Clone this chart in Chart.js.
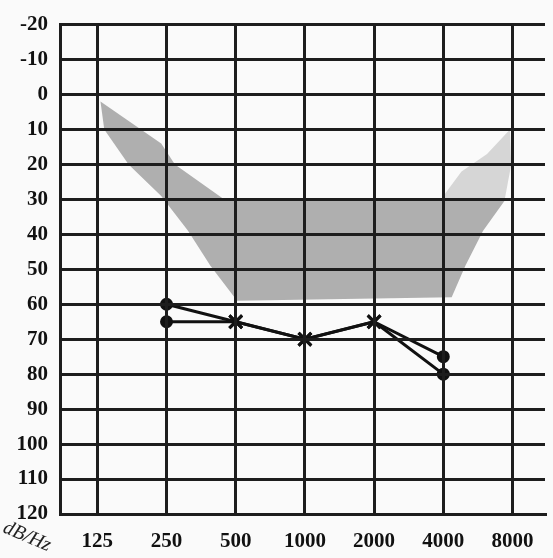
<!DOCTYPE html>
<html>
<head>
<meta charset="utf-8">
<script src="https://cdn.jsdelivr.net/npm/chart.js@4.4.1/dist/chart.umd.min.js"></script>
<style>
  html, body { margin: 0; padding: 0; background: #fafafa; }
  #wrap { width: 553px; height: 558px; }
</style>
</head>
<body>
<div id="wrap"><canvas id="audiogram" width="553" height="558"></canvas></div>
<script>
// audiogram values
const freqs = [125, 250, 500, 1000, 2000, 4000, 8000];
const rightEar = [null, 60, 65, 70, 65, 75, null];
const leftEar = [null, 65, 65, 70, 65, 80, null];
const markers = ['circle', 'circle', 'crossRot', 'crossRot', 'crossRot', 'circle', 'circle'];

// grey speech area outline (Hz, dB)
const bananaFreq = [129, 237, 272, 446, 3640, 7460, 5960, 4990, 4350, 507, 388, 310, 237, 171, 134, 129];
const bananaDb = [2, 14, 20, 30, 30, 30, 39, 49, 58, 59, 49, 39, 29, 20, 10, 2];
// lighter speckled patch at high frequencies
const patchFreq = [3900, 4800, 6200, 7800, 7900, 7400, 3900];
const patchDb = [30, 22, 17, 10, 20, 30, 30];

const GRID = '#1d1d1d';

function points(xs, ys) {
  return xs.map((x, i) => ({ x: x, y: ys[i] })).filter(p => p.y !== null);
}

const dbLabel = {
  id: 'dbLabel',
  afterDraw(chart) {
    const ctx = chart.ctx;
    ctx.save();
    ctx.translate(4, 527);
    ctx.rotate(0.4);
    ctx.font = 'italic 20px "Liberation Serif"';
    ctx.fillStyle = '#222';
    ctx.textBaseline = 'middle';
    ctx.fillText('dB/Hz', 0, 0);
    ctx.restore();
  }
};

const ctx = document.getElementById('audiogram').getContext('2d');
new Chart(ctx, {
  type: 'scatter',
  data: {
    datasets: [
      {
        label: 'speech area',
        data: points(bananaFreq, bananaDb),
        showLine: true,
        fill: 'shape',
        backgroundColor: 'rgba(150,150,150,0.75)',
        borderWidth: 0,
        pointRadius: 0,
        tension: 0
      },
      {
        label: 'patch',
        data: points(patchFreq, patchDb),
        showLine: true,
        fill: 'shape',
        backgroundColor: 'rgba(170,170,170,0.45)',
        borderWidth: 0,
        pointRadius: 0
      },
      {
        label: 'right',
        data: points(freqs, rightEar),
        showLine: true,
        borderColor: '#111',
        backgroundColor: '#111',
        borderWidth: 3,
        pointStyle: markers.slice(1, 6),
        pointRadius: [5, 9, 9, 9, 5],
        pointBorderWidth: 3
      },
      {
        label: 'left',
        data: points(freqs, leftEar),
        showLine: true,
        borderColor: '#111',
        backgroundColor: '#111',
        borderWidth: 3,
        pointStyle: markers.slice(1, 6),
        pointRadius: [5, 9, 9, 9, 5],
        pointBorderWidth: 3
      }
    ]
  },
  options: {
    responsive: false,
    animation: false,
    layout: { padding: { top: 20, right: 0, left: 0, bottom: 0 } },
    plugins: { legend: { display: false }, tooltip: { enabled: false } },
    scales: {
      x: {
        type: 'logarithmic',
        min: 86,
        max: 11080,
        afterBuildTicks: scale => { scale.ticks = freqs.map(v => ({ value: v })); },
        afterFit: scale => { scale.height = 44; },
        grid: { color: GRID, lineWidth: 3, drawTicks: false, z: 1 },
        border: { color: GRID, width: 3, z: 1 },
        ticks: {
          color: '#111',
          padding: 15,
          autoSkip: false,
          maxRotation: 0,
          font: { family: '"Liberation Serif"', size: 21, weight: 'bold' },
          callback: v => String(v)
        }
      },
      y: {
        reverse: true,
        min: -20,
        max: 120,
        afterFit: scale => { scale.width = 60; },
        grid: { color: GRID, lineWidth: 3, drawTicks: false, z: 1 },
        border: { color: GRID, width: 3, z: 1 },
        ticks: {
          stepSize: 10,
          color: '#111',
          padding: 12,
          font: { family: '"Liberation Serif"', size: 21, weight: 'bold' }
        }
      }
    }
  },
  plugins: [dbLabel]
});
</script>
</body>
</html>
